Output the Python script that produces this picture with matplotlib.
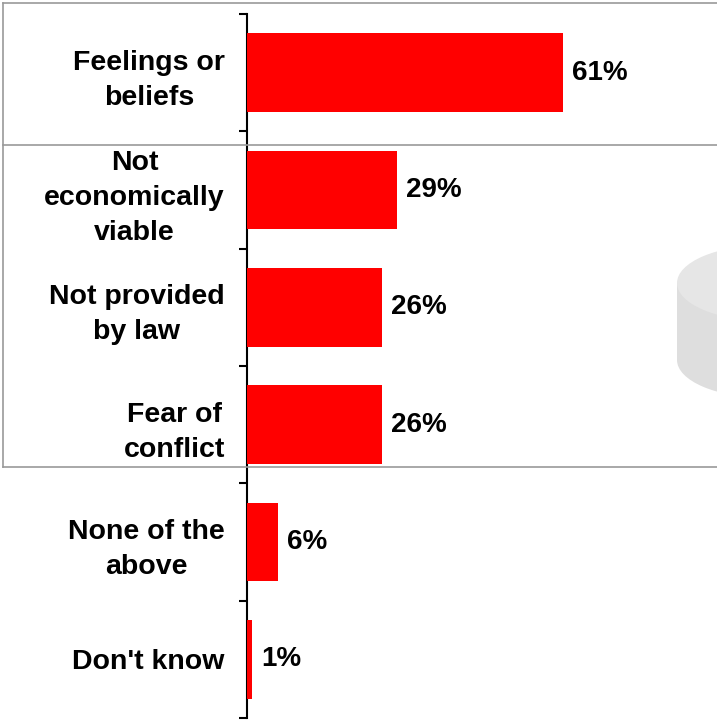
import matplotlib
matplotlib.use('Agg')
import matplotlib.pyplot as plt
from matplotlib.patches import Ellipse, Rectangle
from matplotlib.lines import Line2D
import numpy as np

# Data
categories = ['Feelings or\nbeliefs', 'Not\neconomically\nviable', 'Not provided\nby law',
              'Fear of\nconflict', 'None of the\nabove', "Don't know"]
values = [61, 29, 26, 26, 6, 1]
value_labels = ['61%', '29%', '26%', '26%', '6%', '1%']

W, H = 717, 722
plt.rcParams['font.family'] = ['Liberation Sans', 'DejaVu Sans']
fig = plt.figure(figsize=(W / 100, H / 100), dpi=100)

# grey frame lines behind the chart (pixel coordinates -> figure fraction)
def px(x, y):
    return x / W, 1 - y / H

for (x0, y0), (x1, y1) in [((3, 3), (717, 3)), ((3, 145), (717, 145)),
                           ((3, 467), (717, 467)), ((3, 3), (3, 467))]:
    a, b = px(x0, y0)
    c, d = px(x1, y1)
    fig.add_artist(Line2D([a, c], [b, d], color='#999999', lw=1.2))

# decorative cylinder at right edge
cx, r = 767, 90
top_y, bot_y, ry = 283, 360, 38
fig.add_artist(Rectangle(px(cx - r, bot_y), 2 * r / W, (bot_y - top_y) / H,
                         facecolor='#dedede', edgecolor='none'))
fig.add_artist(Ellipse(px(cx, bot_y), 2 * r / W, 2 * ry / H, facecolor='#dedede', edgecolor='none'))
fig.add_artist(Ellipse(px(cx, top_y), 2 * r / W, 2 * ry / H, facecolor='#e6e6e6', edgecolor='none'))

# axes placed to match the reference layout
left, right = 247, 717
top, bottom = 14, 718
ax = fig.add_axes([left / W, 1 - bottom / H, (right - left) / W, (bottom - top) / H])
ax.patch.set_alpha(0)

y = np.arange(len(categories))
ax.barh(y, values, height=0.67, color='#ff0000', zorder=3)
ax.set_ylim(len(categories) - 0.5, -0.5)
ax.set_xlim(0, (right - left) / 5.18)

for yi, v, lab in zip(y, values, value_labels):
    ax.annotate(lab, (v, yi), xytext=(9, 0), textcoords='offset pixels',
                va='center', ha='left', fontsize=20, fontweight='bold')

ax.set_yticks(y)
ax.set_yticklabels(categories, fontsize=20.5, fontweight='bold', multialignment='center',
                   linespacing=1.45)
ax.tick_params(axis='y', which='major', length=0, pad=16)
ax.set_yticks(np.arange(-0.5, len(categories)), minor=True)
ax.tick_params(axis='y', which='minor', length=6, width=1.5, direction='out')
ax.set_xticks([])

for s in ['top', 'right', 'bottom']:
    ax.spines[s].set_visible(False)
ax.spines['left'].set_linewidth(1.5)

fig.savefig('out.png', dpi=100)
